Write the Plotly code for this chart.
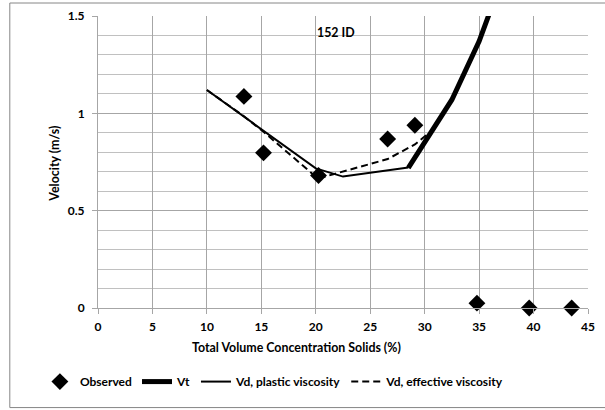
import plotly.graph_objects as go

# Observed data
obs_x = [13.4, 15.2, 20.25, 26.6, 29.1, 34.8, 39.6, 43.5]
obs_y = [1.087, 0.797, 0.681, 0.868, 0.939, 0.025, 0.0, 0.0]

# Vt (thick line)
vt_x = [28.5, 30.5, 32.5, 35.0, 37.5]
vt_y = [0.72, 0.895, 1.07, 1.37, 1.75]

# Vd, plastic viscosity (thin solid)
vdp_x = [10.0, 20.0, 22.5, 28.5]
vdp_y = [1.12, 0.717, 0.675, 0.722]

# Vd, effective viscosity (dashed)
vde_x = [10.0, 13.4, 15.2, 20.2, 26.6, 29.1, 30.4]
vde_y = [1.12, 0.985, 0.905, 0.665, 0.765, 0.84, 0.9]

x_ticks = [0, 5, 10, 15, 20, 25, 30, 35, 40, 45]
y_ticks = [0, 0.5, 1, 1.5]
y_tick_labels = ["0", "0.5", "1", "1.5"]

FONT = "Lato"
fig = go.Figure()
fig.add_trace(go.Scatter(x=obs_x, y=obs_y, mode="markers", name="Observed",
                         marker=dict(symbol="diamond", size=13, color="black"),
                         cliponaxis=False))
fig.add_trace(go.Scatter(x=vt_x, y=vt_y, mode="lines", name="Vt",
                         line=dict(color="black", width=5)))
fig.add_trace(go.Scatter(x=vdp_x, y=vdp_y, mode="lines", name="Vd, plastic viscosity",
                         line=dict(color="black", width=2)))
fig.add_trace(go.Scatter(x=vde_x, y=vde_y, mode="lines", name="Vd, effective viscosity",
                         line=dict(color="black", width=2, dash="7px,4px")))

L, R, T, B = 98, 17, 16, 102
fig.update_layout(
    width=605, height=410,
    margin=dict(l=L, r=R, t=T, b=B, autoexpand=False),
    paper_bgcolor="white", plot_bgcolor="white",
    font=dict(family=FONT, size=12, color="black"),
    showlegend=True,
    legend=dict(orientation="h", x=0.36, y=-0.252, xanchor="center", yanchor="middle",
                font=dict(family=FONT, size=12, color="black", weight="bold"),
                itemwidth=30, tracegroupgap=0,
                bgcolor="rgba(0,0,0,0)"),
    xaxis=dict(range=[0, 45], tickvals=x_ticks, showgrid=True, gridcolor="#a6a6a6",
               gridwidth=1, zeroline=False, showline=True, linecolor="#a6a6a6",
               ticks="outside", ticklen=5, tickcolor="#a6a6a6", mirror=False,
               ticklabelstandoff=3,
               tickfont=dict(family=FONT, size=12, weight="bold"), fixedrange=True),
    yaxis=dict(range=[0, 1.5], tickvals=y_ticks, ticktext=y_tick_labels, showgrid=True,
               gridcolor="#a6a6a6",
               zeroline=False, showline=True, linecolor="#a6a6a6",
               ticks="outside", ticklen=5, tickcolor="#a6a6a6",
               ticklabelstandoff=5,
               minor=dict(dtick=0.1, showgrid=True, gridcolor="#c0c0c0", gridwidth=1),
               tickfont=dict(family=FONT, size=12, weight="bold"), fixedrange=True),
)

fig.add_annotation(text="<b>Total Volume Concentration Solids (%)</b>", xref="paper", yref="paper",
                   x=0.405, y=-0.136, showarrow=False, xanchor="center", yanchor="middle",
                   font=dict(family=FONT, size=12.4))
fig.add_annotation(text="<b>Velocity (m/s)</b>", xref="paper", yref="paper",
                   x=-0.088, y=0.494, showarrow=False, textangle=-90,
                   xanchor="center", yanchor="middle", font=dict(family=FONT, size=12.4))
fig.add_annotation(text="<b>152 ID</b>", xref="paper", yref="paper",
                   x=0.485, y=0.943, showarrow=False, xanchor="center", yanchor="middle",
                   font=dict(family=FONT, size=12.4))

# outer chart frame
fig.add_shape(type="rect", xref="paper", yref="paper",
              x0=-0.180, x1=1.04, y0=-0.341, y1=1.0445,
              line=dict(color="#868686", width=1), fillcolor="rgba(0,0,0,0)", layer="above")

fig.write_html("out.html", config={"displayModeBar": False},
               post_script="document.body.style.margin='0';document.body.style.padding='0';")
